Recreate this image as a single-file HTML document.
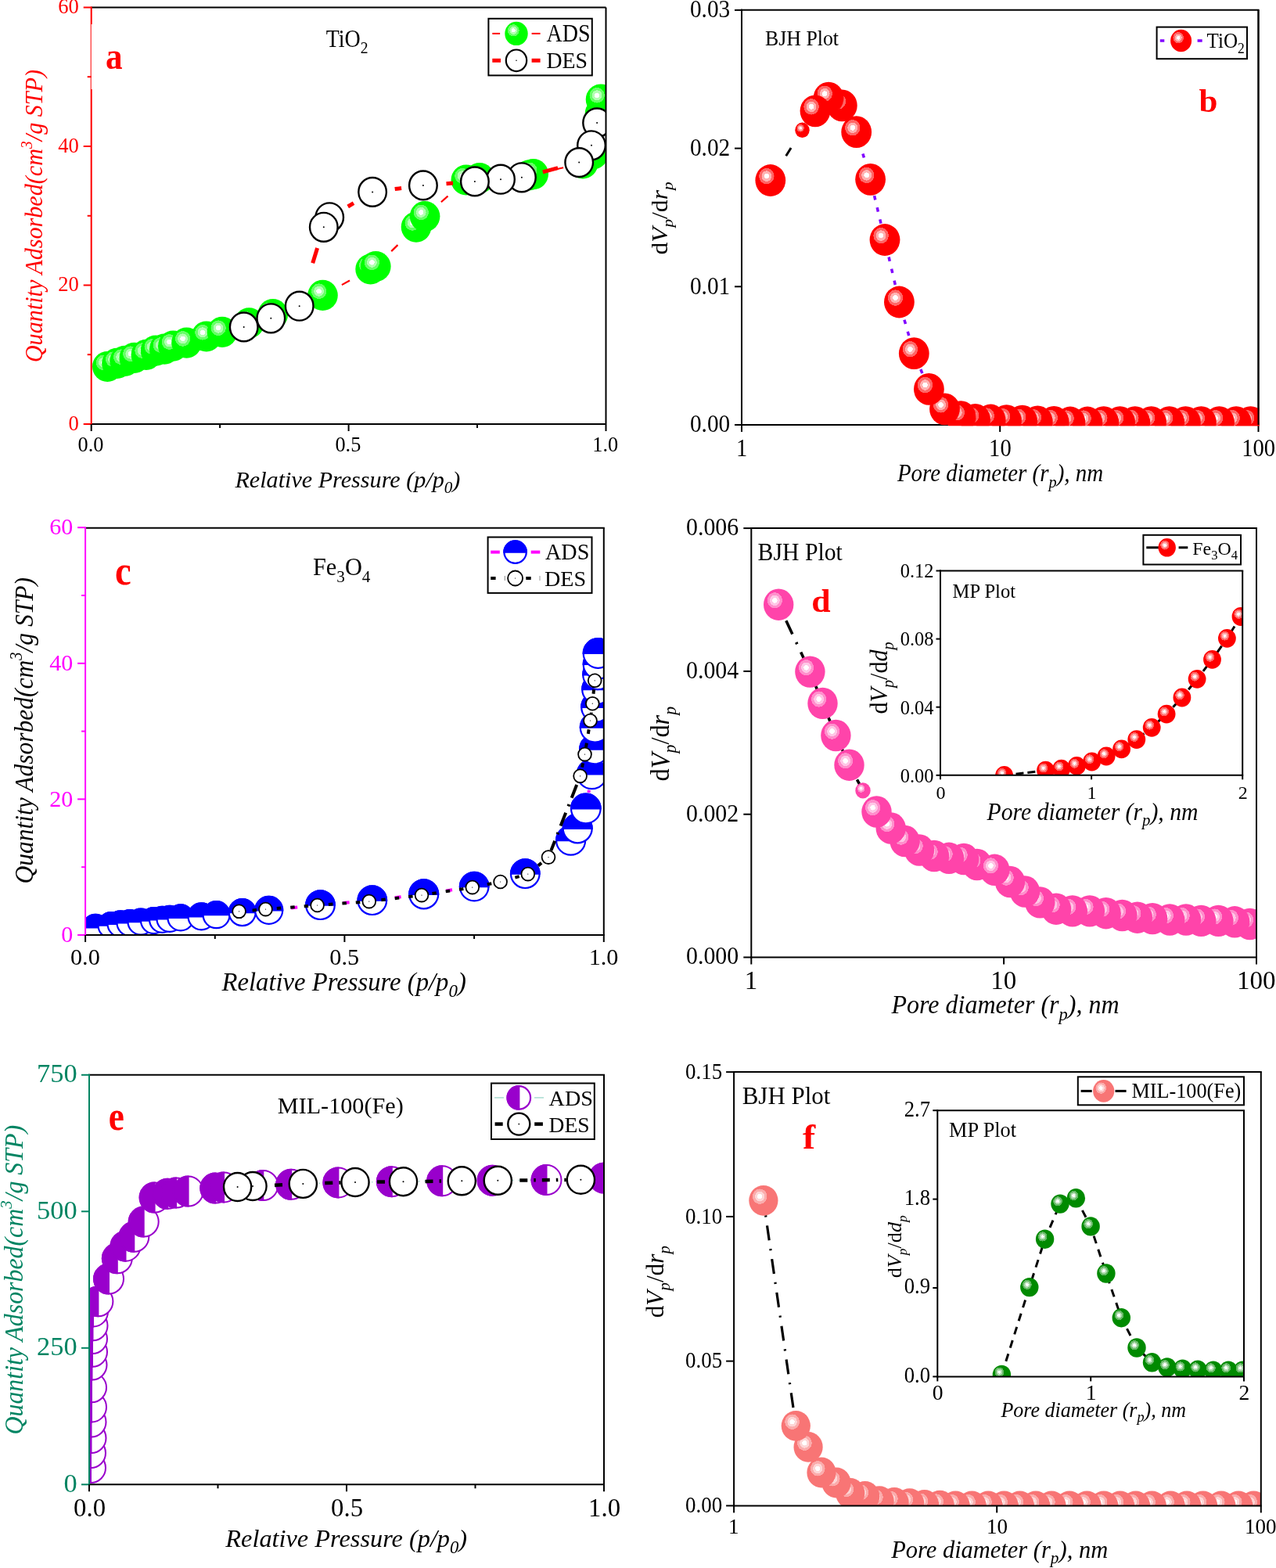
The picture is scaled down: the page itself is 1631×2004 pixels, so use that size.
<!DOCTYPE html><html><head><meta charset="utf-8"><title>BET isotherms and pore size distributions</title><style>html,body{margin:0;padding:0;background:#fff;}svg{display:block;}</style></head><body><svg width="1631" height="2004" viewBox="0 0 1631 2004" font-family="'Liberation Serif','Times New Roman',serif"><defs><radialGradient id="gG" cx="0.373" cy="0.367" fx="0.373" fy="0.367" r="0.25"><stop offset="0" stop-color="#fff"/><stop offset="0.33" stop-color="#fff"/><stop offset="0.34" stop-color="#b2ffb2"/><stop offset="0.65" stop-color="#b2ffb2"/><stop offset="0.66" stop-color="#66ff66"/><stop offset="0.985" stop-color="#66ff66"/><stop offset="1" stop-color="#00ff00"/></radialGradient><radialGradient id="gR" cx="0.373" cy="0.367" fx="0.373" fy="0.367" r="0.25"><stop offset="0" stop-color="#fff"/><stop offset="0.33" stop-color="#fff"/><stop offset="0.34" stop-color="#ffb2b2"/><stop offset="0.65" stop-color="#ffb2b2"/><stop offset="0.66" stop-color="#ff6666"/><stop offset="0.985" stop-color="#ff6666"/><stop offset="1" stop-color="#ff0000"/></radialGradient><radialGradient id="gP" cx="0.373" cy="0.367" fx="0.373" fy="0.367" r="0.25"><stop offset="0" stop-color="#fff"/><stop offset="0.33" stop-color="#fff"/><stop offset="0.34" stop-color="#ffc7e6"/><stop offset="0.65" stop-color="#ffc7e6"/><stop offset="0.66" stop-color="#ff8fcc"/><stop offset="0.985" stop-color="#ff8fcc"/><stop offset="1" stop-color="#ff44aa"/></radialGradient><radialGradient id="gS" cx="0.373" cy="0.367" fx="0.373" fy="0.367" r="0.25"><stop offset="0" stop-color="#fff"/><stop offset="0.33" stop-color="#fff"/><stop offset="0.34" stop-color="#fdd6d6"/><stop offset="0.65" stop-color="#fdd6d6"/><stop offset="0.66" stop-color="#fbacac"/><stop offset="0.985" stop-color="#fbacac"/><stop offset="1" stop-color="#f87575"/></radialGradient><radialGradient id="gD" cx="0.373" cy="0.367" fx="0.373" fy="0.367" r="0.25"><stop offset="0" stop-color="#fff"/><stop offset="0.33" stop-color="#fff"/><stop offset="0.34" stop-color="#b2dcb2"/><stop offset="0.65" stop-color="#b2dcb2"/><stop offset="0.66" stop-color="#66b966"/><stop offset="0.985" stop-color="#66b966"/><stop offset="1" stop-color="#008a00"/></radialGradient><clipPath id="ca"><rect x="116.7" y="9.5" width="657.8" height="532.5"/></clipPath><clipPath id="cb"><rect x="948.0" y="12.7" width="661.5" height="531.5"/></clipPath><clipPath id="cc"><rect x="109.1" y="674.7" width="662.6999999999999" height="520.3"/></clipPath><clipPath id="cd"><rect x="960.3" y="675.1" width="645.7" height="548.4"/></clipPath><clipPath id="cdi"><rect x="1202.0" y="729.5" width="386.20000000000005" height="261.29999999999995"/></clipPath><clipPath id="ce"><rect x="114.0" y="1373.8" width="658.0" height="523.5"/></clipPath><clipPath id="cf"><rect x="938.1" y="1370.1" width="673.6999999999999" height="554.3000000000002"/></clipPath><clipPath id="cfi"><rect x="1198.3" y="1419.2" width="391.70000000000005" height="340.20000000000005"/></clipPath></defs><rect width="1631" height="2004" fill="#fff"/><g clip-path="url(#ca)"><path d="M374.8,391.8L385.5,387.7M436.9,364.1L447.0,358.5M500.2,321.1L508.4,313.1M563.9,258.2L572.5,250.6M640.8,226.0L652.2,225.3M708.9,216.8L720.1,214.3M762.7,169.6L763.7,164.0" fill="none" stroke="#ff0000" stroke-width="2.2" stroke-linecap="butt"/><ellipse cx="137.3" cy="468.5" rx="19.3" ry="19.6" fill="url(#gG)"/><ellipse cx="149.5" cy="464.4" rx="19.3" ry="19.6" fill="url(#gG)"/><ellipse cx="159.6" cy="461.4" rx="19.3" ry="19.6" fill="url(#gG)"/><ellipse cx="171.7" cy="457.4" rx="19.3" ry="19.6" fill="url(#gG)"/><ellipse cx="186.9" cy="453.3" rx="19.3" ry="19.6" fill="url(#gG)"/><ellipse cx="199.0" cy="448.2" rx="19.3" ry="19.6" fill="url(#gG)"/><ellipse cx="210.2" cy="446.2" rx="19.3" ry="19.6" fill="url(#gG)"/><ellipse cx="221.3" cy="442.2" rx="19.3" ry="19.6" fill="url(#gG)"/><ellipse cx="238.5" cy="438.1" rx="19.3" ry="19.6" fill="url(#gG)"/><ellipse cx="263.8" cy="430.0" rx="19.3" ry="19.6" fill="url(#gG)"/><ellipse cx="284.0" cy="424.4" rx="19.3" ry="19.6" fill="url(#gG)"/><ellipse cx="318.4" cy="412.8" rx="19.3" ry="19.6" fill="url(#gG)"/><ellipse cx="348.8" cy="401.7" rx="19.3" ry="19.6" fill="url(#gG)"/><ellipse cx="412.5" cy="377.4" rx="19.3" ry="19.6" fill="url(#gG)"/><ellipse cx="473.6" cy="344.0" rx="19.3" ry="19.6" fill="url(#gG)"/><ellipse cx="480.3" cy="340.5" rx="19.3" ry="19.6" fill="url(#gG)"/><ellipse cx="532.0" cy="290.1" rx="19.3" ry="19.6" fill="url(#gG)"/><ellipse cx="543.1" cy="276.6" rx="19.3" ry="19.6" fill="url(#gG)"/><ellipse cx="595.8" cy="230.0" rx="19.3" ry="19.6" fill="url(#gG)"/><ellipse cx="613.0" cy="227.5" rx="19.3" ry="19.6" fill="url(#gG)"/><ellipse cx="676.0" cy="224.0" rx="19.3" ry="19.6" fill="url(#gG)"/><ellipse cx="681.7" cy="222.6" rx="19.3" ry="19.6" fill="url(#gG)"/><ellipse cx="745.0" cy="209.0" rx="19.3" ry="19.6" fill="url(#gG)"/><ellipse cx="758.0" cy="197.0" rx="19.3" ry="19.6" fill="url(#gG)"/><ellipse cx="767.0" cy="145.0" rx="19.3" ry="19.6" fill="url(#gG)"/><ellipse cx="768.0" cy="127.0" rx="19.3" ry="19.6" fill="url(#gG)"/><path d="M713.1,214.7L693.8,219.8M579.0,234.0L570.5,234.7M513.1,240.5L504.7,241.6M452.0,259.6L444.7,264.0M405.6,317.1L399.7,336.2" fill="none" stroke="#ff0000" stroke-width="5"/><ellipse cx="763.1" cy="156.9" rx="17.8" ry="18.4" fill="#fff" stroke="#000" stroke-width="2.4"/><circle cx="763.1" cy="156.9" r="1.0" fill="#000"/><ellipse cx="756.0" cy="185.8" rx="17.8" ry="18.4" fill="#fff" stroke="#000" stroke-width="2.4"/><circle cx="756.0" cy="185.8" r="1.0" fill="#000"/><ellipse cx="740.2" cy="207.6" rx="17.8" ry="18.4" fill="#fff" stroke="#000" stroke-width="2.4"/><circle cx="740.2" cy="207.6" r="1.0" fill="#000"/><ellipse cx="666.9" cy="226.8" rx="17.8" ry="18.4" fill="#fff" stroke="#000" stroke-width="2.4"/><circle cx="666.9" cy="226.8" r="1.0" fill="#000"/><ellipse cx="640.0" cy="229.2" rx="17.8" ry="18.4" fill="#fff" stroke="#000" stroke-width="2.4"/><circle cx="640.0" cy="229.2" r="1.0" fill="#000"/><ellipse cx="606.9" cy="231.9" rx="17.8" ry="18.4" fill="#fff" stroke="#000" stroke-width="2.4"/><circle cx="606.9" cy="231.9" r="1.0" fill="#000"/><ellipse cx="540.9" cy="236.9" rx="17.8" ry="18.4" fill="#fff" stroke="#000" stroke-width="2.4"/><circle cx="540.9" cy="236.9" r="1.0" fill="#000"/><ellipse cx="476.1" cy="245.4" rx="17.8" ry="18.4" fill="#fff" stroke="#000" stroke-width="2.4"/><circle cx="476.1" cy="245.4" r="1.0" fill="#000"/><ellipse cx="421.2" cy="277.8" rx="17.8" ry="18.4" fill="#fff" stroke="#000" stroke-width="2.4"/><circle cx="421.2" cy="277.8" r="1.0" fill="#000"/><ellipse cx="413.8" cy="290.3" rx="17.8" ry="18.4" fill="#fff" stroke="#000" stroke-width="2.4"/><circle cx="413.8" cy="290.3" r="1.0" fill="#000"/><ellipse cx="382.7" cy="391.2" rx="17.8" ry="18.4" fill="#fff" stroke="#000" stroke-width="2.4"/><circle cx="382.7" cy="391.2" r="1.0" fill="#000"/><ellipse cx="346.3" cy="406.8" rx="17.8" ry="18.4" fill="#fff" stroke="#000" stroke-width="2.4"/><circle cx="346.3" cy="406.8" r="1.0" fill="#000"/><ellipse cx="311.7" cy="417.9" rx="17.8" ry="18.4" fill="#fff" stroke="#000" stroke-width="2.4"/><circle cx="311.7" cy="417.9" r="1.0" fill="#000"/></g>
<line x1="116.7" y1="9.5" x2="774.5" y2="9.5" stroke="#000" stroke-width="2"/>
<line x1="774.5" y1="9.5" x2="774.5" y2="542.0" stroke="#000" stroke-width="2"/>
<line x1="116.7" y1="542.0" x2="774.5" y2="542.0" stroke="#000" stroke-width="2"/>
<line x1="116.7" y1="8.5" x2="116.7" y2="31.0" stroke="#ff0000" stroke-width="2"/>
<line x1="116.2" y1="31.0" x2="116.2" y2="114.0" stroke="#ff0000" stroke-width="1"/>
<line x1="116.7" y1="114.0" x2="116.7" y2="543.0" stroke="#ff0000" stroke-width="2"/>
<line x1="106.7" y1="542.0" x2="116.7" y2="542.0" stroke="#ff0000" stroke-width="2"/>
<line x1="106.7" y1="364.5" x2="116.7" y2="364.5" stroke="#ff0000" stroke-width="2"/>
<line x1="106.7" y1="187.0" x2="116.7" y2="187.0" stroke="#ff0000" stroke-width="2"/>
<line x1="106.7" y1="9.5" x2="116.7" y2="9.5" stroke="#ff0000" stroke-width="2"/>
<line x1="111.7" y1="453.2" x2="116.7" y2="453.2" stroke="#ff0000" stroke-width="2"/>
<line x1="111.7" y1="275.8" x2="116.7" y2="275.8" stroke="#ff0000" stroke-width="2"/>
<line x1="111.7" y1="98.2" x2="116.7" y2="98.2" stroke="#ff0000" stroke-width="2"/>
<line x1="116.7" y1="542.0" x2="116.7" y2="551.0" stroke="#000" stroke-width="2"/>
<line x1="445.6" y1="542.0" x2="445.6" y2="551.0" stroke="#000" stroke-width="2"/>
<line x1="774.5" y1="542.0" x2="774.5" y2="551.0" stroke="#000" stroke-width="2"/>
<line x1="281.1" y1="542.0" x2="281.1" y2="547.0" stroke="#000" stroke-width="2"/>
<line x1="610.0" y1="542.0" x2="610.0" y2="547.0" stroke="#000" stroke-width="2"/>
<rect x="624.4" y="23.8" width="132.4" height="72.6" fill="#fff" stroke="#000" stroke-width="2"/>
<line x1="629.3" y1="42.9" x2="639.1" y2="42.9" stroke="#ff0000" stroke-width="2"/>
<line x1="679.6" y1="42.9" x2="690.6" y2="42.9" stroke="#ff0000" stroke-width="2"/>
<ellipse cx="660.0" cy="42.9" rx="14.7" ry="15.2" fill="url(#gG)"/>
<line x1="629.3" y1="77.3" x2="640.0" y2="77.3" stroke="#ff0000" stroke-width="5"/>
<line x1="679.6" y1="77.3" x2="690.6" y2="77.3" stroke="#ff0000" stroke-width="5"/>
<ellipse cx="660.0" cy="77.3" rx="13.2" ry="13.8" fill="#fff" stroke="#000" stroke-width="2.2"/><circle cx="660.0" cy="77.3" r="0.8" fill="#000"/>
<line x1="947.0" y1="12.7" x2="1609.5" y2="12.7" stroke="#000" stroke-width="2"/>
<line x1="1608.5" y1="12.7" x2="1608.5" y2="543.0" stroke="#000" stroke-width="2"/>
<line x1="947.0" y1="543.0" x2="1609.5" y2="543.0" stroke="#000" stroke-width="2"/>
<line x1="948.0" y1="11.7" x2="948.0" y2="544.0" stroke="#000" stroke-width="2"/>
<line x1="939.0" y1="543.0" x2="948.0" y2="543.0" stroke="#000" stroke-width="2"/>
<line x1="939.0" y1="366.3" x2="948.0" y2="366.3" stroke="#000" stroke-width="2"/>
<line x1="939.0" y1="189.6" x2="948.0" y2="189.6" stroke="#000" stroke-width="2"/>
<line x1="939.0" y1="12.9" x2="948.0" y2="12.9" stroke="#000" stroke-width="2"/>
<line x1="948.0" y1="543.0" x2="948.0" y2="552.0" stroke="#000" stroke-width="2"/>
<line x1="1278.2" y1="543.0" x2="1278.2" y2="552.0" stroke="#000" stroke-width="2"/>
<line x1="1608.5" y1="543.0" x2="1608.5" y2="552.0" stroke="#000" stroke-width="2"/>
<g clip-path="url(#cb)"><path d="M1004.7,199.2L1011.1,189.0" fill="none" stroke="#000" stroke-width="3" stroke-linecap="butt"/><path d="M1102.9,196.4L1104.4,201.6M1117.6,250.1L1118.8,255.5M1121.2,265.2L1122.4,270.6M1124.8,280.3L1126.0,285.7M1136.1,328.5L1137.3,333.8M1139.6,343.6L1140.8,348.9M1143.1,358.7L1144.3,364.0M1155.9,408.8L1157.5,414.0M1160.2,423.7L1161.8,428.9M1176.8,472.0L1178.9,477.1" fill="none" stroke="#8000ff" stroke-width="3.5" stroke-linecap="butt"/><ellipse cx="1618.0" cy="539.6" rx="19.4" ry="20.4" fill="url(#gR)"/><ellipse cx="1598.5" cy="539.6" rx="19.4" ry="20.4" fill="url(#gR)"/><ellipse cx="1580.1" cy="539.6" rx="19.4" ry="20.4" fill="url(#gR)"/><ellipse cx="1558.5" cy="539.6" rx="19.4" ry="20.4" fill="url(#gR)"/><ellipse cx="1535.4" cy="539.6" rx="19.4" ry="20.4" fill="url(#gR)"/><ellipse cx="1515.4" cy="539.6" rx="19.4" ry="20.4" fill="url(#gR)"/><ellipse cx="1494.7" cy="539.6" rx="19.4" ry="20.4" fill="url(#gR)"/><ellipse cx="1471.6" cy="539.6" rx="19.4" ry="20.4" fill="url(#gR)"/><ellipse cx="1450.8" cy="539.6" rx="19.4" ry="20.4" fill="url(#gR)"/><ellipse cx="1431.6" cy="539.6" rx="19.4" ry="20.4" fill="url(#gR)"/><ellipse cx="1410.8" cy="539.6" rx="19.4" ry="20.4" fill="url(#gR)"/><ellipse cx="1390.0" cy="540.0" rx="19.4" ry="20.4" fill="url(#gR)"/><ellipse cx="1368.0" cy="540.0" rx="19.4" ry="20.4" fill="url(#gR)"/><ellipse cx="1347.2" cy="539.4" rx="19.4" ry="20.4" fill="url(#gR)"/><ellipse cx="1326.3" cy="538.8" rx="19.4" ry="20.4" fill="url(#gR)"/><ellipse cx="1306.7" cy="538.2" rx="19.4" ry="20.4" fill="url(#gR)"/><ellipse cx="1286.5" cy="537.6" rx="19.4" ry="20.4" fill="url(#gR)"/><ellipse cx="1266.2" cy="537.0" rx="19.4" ry="20.4" fill="url(#gR)"/><ellipse cx="1246.6" cy="536.4" rx="19.4" ry="20.4" fill="url(#gR)"/><ellipse cx="1228.2" cy="532.7" rx="19.4" ry="20.4" fill="url(#gR)"/><ellipse cx="1207.5" cy="522.8" rx="19.4" ry="20.4" fill="url(#gR)"/><ellipse cx="1187.4" cy="497.4" rx="19.4" ry="20.4" fill="url(#gR)"/><ellipse cx="1168.3" cy="451.7" rx="19.4" ry="20.4" fill="url(#gR)"/><ellipse cx="1149.4" cy="386.0" rx="19.4" ry="20.4" fill="url(#gR)"/><ellipse cx="1131.0" cy="306.5" rx="19.4" ry="20.4" fill="url(#gR)"/><ellipse cx="1112.6" cy="229.3" rx="19.4" ry="20.4" fill="url(#gR)"/><ellipse cx="1094.7" cy="168.7" rx="19.4" ry="20.4" fill="url(#gR)"/><ellipse cx="1076.3" cy="134.9" rx="19.4" ry="20.4" fill="url(#gR)"/><ellipse cx="1059.1" cy="125.1" rx="19.4" ry="20.4" fill="url(#gR)"/><ellipse cx="1042.0" cy="141.8" rx="19.4" ry="20.4" fill="url(#gR)"/><ellipse cx="1025.5" cy="166.3" rx="9.2" ry="9.7" fill="url(#gR)"/><ellipse cx="984.8" cy="230.5" rx="19.4" ry="20.4" fill="url(#gR)"/></g>
<line x1="1608.5" y1="12.7" x2="1608.5" y2="543.0" stroke="#000" stroke-width="2"/>
<rect x="1478.6" y="34.6" width="115.4" height="40.6" fill="#fff" stroke="#000" stroke-width="2"/>
<line x1="1482.8" y1="52.0" x2="1488.3" y2="52.0" stroke="#8000ff" stroke-width="3.5"/>
<line x1="1530.6" y1="52.0" x2="1536.7" y2="52.0" stroke="#8000ff" stroke-width="3.5"/>
<ellipse cx="1509.6" cy="52.0" rx="13.5" ry="14.3" fill="url(#gR)"/>
<g clip-path="url(#cc)"><path d="M372.2,1160.4L380.2,1159.6M438.7,1154.1L446.6,1153.3M504.7,1147.2L512.6,1146.3M570.1,1138.5L578.0,1137.3M634.9,1125.9L642.6,1123.9M697.1,1097.9L703.6,1093.2M752.4,1013.0L753.0,1009.9" fill="none" stroke="#ff00ff" stroke-width="4" stroke-linecap="butt"/><circle cx="122.0" cy="1185.4" r="16.5" fill="#fff" stroke="#0000ff" stroke-width="2.2"/><path d="M105.5,1185.4 A16.5,16.5 0 0 1 138.5,1185.4 Z" fill="#0000ff" stroke="#0000ff" stroke-width="2.2"/><circle cx="142.0" cy="1182.7" r="16.5" fill="#fff" stroke="#0000ff" stroke-width="2.2"/><path d="M125.5,1182.7 A16.5,16.5 0 0 1 158.5,1182.7 Z" fill="#0000ff" stroke="#0000ff" stroke-width="2.2"/><circle cx="154.0" cy="1180.8" r="16.5" fill="#fff" stroke="#0000ff" stroke-width="2.2"/><path d="M137.5,1180.8 A16.5,16.5 0 0 1 170.5,1180.8 Z" fill="#0000ff" stroke="#0000ff" stroke-width="2.2"/><circle cx="166.0" cy="1179.5" r="16.5" fill="#fff" stroke="#0000ff" stroke-width="2.2"/><path d="M149.5,1179.5 A16.5,16.5 0 0 1 182.5,1179.5 Z" fill="#0000ff" stroke="#0000ff" stroke-width="2.2"/><circle cx="180.0" cy="1178.1" r="16.5" fill="#fff" stroke="#0000ff" stroke-width="2.2"/><path d="M163.5,1178.1 A16.5,16.5 0 0 1 196.5,1178.1 Z" fill="#0000ff" stroke="#0000ff" stroke-width="2.2"/><circle cx="196.5" cy="1176.6" r="16.5" fill="#fff" stroke="#0000ff" stroke-width="2.2"/><path d="M180.0,1176.6 A16.5,16.5 0 0 1 213.0,1176.6 Z" fill="#0000ff" stroke="#0000ff" stroke-width="2.2"/><circle cx="207.5" cy="1175.3" r="16.5" fill="#fff" stroke="#0000ff" stroke-width="2.2"/><path d="M191.0,1175.3 A16.5,16.5 0 0 1 224.0,1175.3 Z" fill="#0000ff" stroke="#0000ff" stroke-width="2.2"/><circle cx="217.0" cy="1174.4" r="16.5" fill="#fff" stroke="#0000ff" stroke-width="2.2"/><path d="M200.5,1174.4 A16.5,16.5 0 0 1 233.5,1174.4 Z" fill="#0000ff" stroke="#0000ff" stroke-width="2.2"/><circle cx="231.0" cy="1172.9" r="16.5" fill="#fff" stroke="#0000ff" stroke-width="2.2"/><path d="M214.5,1172.9 A16.5,16.5 0 0 1 247.5,1172.9 Z" fill="#0000ff" stroke="#0000ff" stroke-width="2.2"/><circle cx="257.5" cy="1171.3" r="17.0" fill="#fff" stroke="#0000ff" stroke-width="2.2"/><path d="M240.5,1171.3 A17.0,17.0 0 0 1 274.5,1171.3 Z" fill="#0000ff" stroke="#0000ff" stroke-width="2.2"/><circle cx="276.6" cy="1169.2" r="17.0" fill="#fff" stroke="#0000ff" stroke-width="2.2"/><path d="M259.6,1169.2 A17.0,17.0 0 0 1 293.6,1169.2 Z" fill="#0000ff" stroke="#0000ff" stroke-width="2.2"/><circle cx="309.7" cy="1166.1" r="17.0" fill="#fff" stroke="#0000ff" stroke-width="2.2"/><path d="M292.7,1166.1 A17.0,17.0 0 0 1 326.7,1166.1 Z" fill="#0000ff" stroke="#0000ff" stroke-width="2.2"/><circle cx="343.7" cy="1163.3" r="17.5" fill="#fff" stroke="#0000ff" stroke-width="2.2"/><path d="M326.2,1163.3 A17.5,17.5 0 0 1 361.2,1163.3 Z" fill="#0000ff" stroke="#0000ff" stroke-width="2.2"/><circle cx="409.5" cy="1156.7" r="18.3" fill="#fff" stroke="#0000ff" stroke-width="2.2"/><path d="M391.2,1156.7 A18.3,18.3 0 0 1 427.8,1156.7 Z" fill="#0000ff" stroke="#0000ff" stroke-width="2.2"/><circle cx="475.8" cy="1150.7" r="18.3" fill="#fff" stroke="#0000ff" stroke-width="2.2"/><path d="M457.5,1150.7 A18.3,18.3 0 0 1 494.1,1150.7 Z" fill="#0000ff" stroke="#0000ff" stroke-width="2.2"/><circle cx="541.7" cy="1142.8" r="18.5" fill="#fff" stroke="#0000ff" stroke-width="2.2"/><path d="M523.2,1142.8 A18.5,18.5 0 0 1 560.2,1142.8 Z" fill="#0000ff" stroke="#0000ff" stroke-width="2.2"/><circle cx="606.2" cy="1133.1" r="18.3" fill="#fff" stroke="#0000ff" stroke-width="2.2"/><path d="M587.9,1133.1 A18.3,18.3 0 0 1 624.5,1133.1 Z" fill="#0000ff" stroke="#0000ff" stroke-width="2.2"/><circle cx="671.3" cy="1116.7" r="18.3" fill="#fff" stroke="#0000ff" stroke-width="2.2"/><path d="M653.0,1116.7 A18.3,18.3 0 0 1 689.6,1116.7 Z" fill="#0000ff" stroke="#0000ff" stroke-width="2.2"/><circle cx="729.6" cy="1074.2" r="18.5" fill="#fff" stroke="#0000ff" stroke-width="2.2"/><path d="M711.1,1074.2 A18.5,18.5 0 0 1 748.1,1074.2 Z" fill="#0000ff" stroke="#0000ff" stroke-width="2.2"/><circle cx="738.2" cy="1058.8" r="18.5" fill="#fff" stroke="#0000ff" stroke-width="2.2"/><path d="M719.7,1058.8 A18.5,18.5 0 0 1 756.7,1058.8 Z" fill="#0000ff" stroke="#0000ff" stroke-width="2.2"/><circle cx="748.8" cy="1033.5" r="18.8" fill="#fff" stroke="#0000ff" stroke-width="2.2"/><path d="M730.0,1033.5 A18.8,18.8 0 0 1 767.6,1033.5 Z" fill="#0000ff" stroke="#0000ff" stroke-width="2.2"/><circle cx="756.6" cy="989.4" r="18.8" fill="#fff" stroke="#0000ff" stroke-width="2.2"/><path d="M737.8,989.4 A18.8,18.8 0 0 1 775.4,989.4 Z" fill="#0000ff" stroke="#0000ff" stroke-width="2.2"/><circle cx="760.0" cy="957.6" r="18.8" fill="#fff" stroke="#0000ff" stroke-width="2.2"/><path d="M741.2,957.6 A18.8,18.8 0 0 1 778.8,957.6 Z" fill="#0000ff" stroke="#0000ff" stroke-width="2.2"/><circle cx="760.6" cy="929.7" r="18.8" fill="#fff" stroke="#0000ff" stroke-width="2.2"/><path d="M741.8,929.7 A18.8,18.8 0 0 1 779.4,929.7 Z" fill="#0000ff" stroke="#0000ff" stroke-width="2.2"/><circle cx="762.0" cy="903.8" r="18.8" fill="#fff" stroke="#0000ff" stroke-width="2.2"/><path d="M743.2,903.8 A18.8,18.8 0 0 1 780.8,903.8 Z" fill="#0000ff" stroke="#0000ff" stroke-width="2.2"/><circle cx="763.0" cy="881.1" r="18.8" fill="#fff" stroke="#0000ff" stroke-width="2.2"/><path d="M744.2,881.1 A18.8,18.8 0 0 1 781.8,881.1 Z" fill="#0000ff" stroke="#0000ff" stroke-width="2.2"/><circle cx="764.0" cy="862.3" r="18.8" fill="#fff" stroke="#0000ff" stroke-width="2.2"/><path d="M745.2,862.3 A18.8,18.8 0 0 1 782.8,862.3 Z" fill="#0000ff" stroke="#0000ff" stroke-width="2.2"/><circle cx="764.5" cy="849.0" r="18.8" fill="#fff" stroke="#0000ff" stroke-width="2.2"/><path d="M745.7,849.0 A18.8,18.8 0 0 1 783.3,849.0 Z" fill="#0000ff" stroke="#0000ff" stroke-width="2.2"/><circle cx="764.5" cy="835.0" r="18.8" fill="#fff" stroke="#0000ff" stroke-width="2.2"/><path d="M745.7,835.0 A18.8,18.8 0 0 1 783.3,835.0 Z" fill="#0000ff" stroke="#0000ff" stroke-width="2.2"/><path d="M759.1,881.2L758.5,886.7" fill="none" stroke="#000" stroke-width="4" stroke-linecap="butt"/><path d="M755.8,910.6L755.7,911.9" fill="none" stroke="#000" stroke-width="4" stroke-linecap="butt"/><path d="M752.7,932.4L751.8,937.8M749.9,949.6L749.0,955.0" fill="none" stroke="#000" stroke-width="4" stroke-linecap="butt"/><path d="M745.1,975.3L744.0,980.7" fill="none" stroke="#000" stroke-width="4" stroke-linecap="butt"/><path d="M692.1,1102.9L687.9,1106.4" fill="none" stroke="#000" stroke-width="4" stroke-linecap="butt"/><path d="M663.7,1120.2L658.4,1121.7" fill="none" stroke="#000" stroke-width="4" stroke-linecap="butt"/><path d="M628.3,1129.2L622.9,1130.3" fill="none" stroke="#000" stroke-width="4" stroke-linecap="butt"/><path d="M592.4,1135.9L587.0,1136.7M575.1,1138.5L569.7,1139.4M557.8,1141.2L552.4,1142.0" fill="none" stroke="#000" stroke-width="4" stroke-linecap="butt"/><path d="M527.6,1145.5L522.1,1146.1M510.2,1147.5L504.7,1148.2M492.8,1149.6L487.4,1150.2" fill="none" stroke="#000" stroke-width="4" stroke-linecap="butt"/><path d="M460.3,1152.9L454.8,1153.4M442.9,1154.2L437.4,1154.6M425.4,1155.5L419.9,1155.9" fill="none" stroke="#000" stroke-width="4" stroke-linecap="butt"/><path d="M394.1,1157.9L388.7,1158.3M376.7,1159.2L371.2,1159.7M359.2,1160.6L353.8,1161.0" fill="none" stroke="#000" stroke-width="4" stroke-linecap="butt"/><path d="M328.0,1163.0L322.6,1163.4" fill="none" stroke="#000" stroke-width="4" stroke-linecap="butt"/><path d="M737.2,1003.0L730.7,1019.7M727.4,1028.1L726.5,1030.4M723.2,1038.8L716.6,1055.6M713.4,1064.0L712.5,1066.3M709.2,1074.7L704.4,1087.0" fill="none" stroke="#000" stroke-width="4" stroke-linecap="butt"/><ellipse cx="760.2" cy="869.8" rx="8.4" ry="8.4" fill="#fff" stroke="#000" stroke-width="1.8"/><circle cx="760.2" cy="869.8" r="0.6" fill="#000"/><ellipse cx="757.3" cy="899.2" rx="8.4" ry="8.4" fill="#fff" stroke="#000" stroke-width="1.8"/><circle cx="757.3" cy="899.2" r="0.6" fill="#000"/><ellipse cx="754.5" cy="921.0" rx="8.4" ry="8.4" fill="#fff" stroke="#000" stroke-width="1.8"/><circle cx="754.5" cy="921.0" r="0.6" fill="#000"/><ellipse cx="747.5" cy="964.1" rx="8.4" ry="8.4" fill="#fff" stroke="#000" stroke-width="1.8"/><circle cx="747.5" cy="964.1" r="0.6" fill="#000"/><ellipse cx="741.6" cy="991.8" rx="8.4" ry="8.4" fill="#fff" stroke="#000" stroke-width="1.8"/><circle cx="741.6" cy="991.8" r="0.6" fill="#000"/><ellipse cx="701.0" cy="1095.6" rx="8.4" ry="8.4" fill="#fff" stroke="#000" stroke-width="1.8"/><circle cx="701.0" cy="1095.6" r="0.6" fill="#000"/><ellipse cx="674.8" cy="1117.1" rx="8.4" ry="8.4" fill="#fff" stroke="#000" stroke-width="1.8"/><circle cx="674.8" cy="1117.1" r="0.6" fill="#000"/><ellipse cx="639.6" cy="1127.0" rx="8.4" ry="8.4" fill="#fff" stroke="#000" stroke-width="1.8"/><circle cx="639.6" cy="1127.0" r="0.6" fill="#000"/><ellipse cx="603.8" cy="1134.1" rx="8.4" ry="8.4" fill="#fff" stroke="#000" stroke-width="1.8"/><circle cx="603.8" cy="1134.1" r="0.6" fill="#000"/><ellipse cx="539.0" cy="1144.1" rx="8.4" ry="8.4" fill="#fff" stroke="#000" stroke-width="1.8"/><circle cx="539.0" cy="1144.1" r="0.6" fill="#000"/><ellipse cx="471.8" cy="1152.1" rx="8.4" ry="8.4" fill="#fff" stroke="#000" stroke-width="1.8"/><circle cx="471.8" cy="1152.1" r="0.6" fill="#000"/><ellipse cx="405.6" cy="1157.0" rx="8.4" ry="8.4" fill="#fff" stroke="#000" stroke-width="1.8"/><circle cx="405.6" cy="1157.0" r="0.6" fill="#000"/><ellipse cx="339.5" cy="1162.1" rx="8.4" ry="8.4" fill="#fff" stroke="#000" stroke-width="1.8"/><circle cx="339.5" cy="1162.1" r="0.6" fill="#000"/><ellipse cx="305.6" cy="1164.8" rx="8.4" ry="8.4" fill="#fff" stroke="#000" stroke-width="1.8"/><circle cx="305.6" cy="1164.8" r="0.6" fill="#000"/></g>
<line x1="108.1" y1="674.7" x2="772.8" y2="674.7" stroke="#000" stroke-width="2"/>
<line x1="771.8" y1="674.7" x2="771.8" y2="1195.0" stroke="#000" stroke-width="2"/>
<line x1="108.1" y1="1195.0" x2="772.8" y2="1195.0" stroke="#000" stroke-width="2"/>
<line x1="109.1" y1="673.7" x2="109.1" y2="1196.0" stroke="#ff00ff" stroke-width="2"/>
<line x1="99.1" y1="1195.0" x2="109.1" y2="1195.0" stroke="#ff00ff" stroke-width="2"/>
<line x1="99.1" y1="1021.4" x2="109.1" y2="1021.4" stroke="#ff00ff" stroke-width="2"/>
<line x1="99.1" y1="847.8" x2="109.1" y2="847.8" stroke="#ff00ff" stroke-width="2"/>
<line x1="99.1" y1="674.2" x2="109.1" y2="674.2" stroke="#ff00ff" stroke-width="2"/>
<line x1="104.1" y1="1108.2" x2="109.1" y2="1108.2" stroke="#ff00ff" stroke-width="2"/>
<line x1="104.1" y1="934.6" x2="109.1" y2="934.6" stroke="#ff00ff" stroke-width="2"/>
<line x1="104.1" y1="761.0" x2="109.1" y2="761.0" stroke="#ff00ff" stroke-width="2"/>
<line x1="109.1" y1="1195.0" x2="109.1" y2="1204.0" stroke="#000" stroke-width="2"/>
<line x1="440.4" y1="1195.0" x2="440.4" y2="1204.0" stroke="#000" stroke-width="2"/>
<line x1="771.8" y1="1195.0" x2="771.8" y2="1204.0" stroke="#000" stroke-width="2"/>
<line x1="274.8" y1="1195.0" x2="274.8" y2="1200.0" stroke="#000" stroke-width="2"/>
<line x1="606.1" y1="1195.0" x2="606.1" y2="1200.0" stroke="#000" stroke-width="2"/>
<rect x="623.6" y="686.5" width="132.9" height="71.4" fill="#fff" stroke="#000" stroke-width="2"/>
<line x1="627.2" y1="705.6" x2="638.8" y2="705.6" stroke="#ff00ff" stroke-width="4"/>
<line x1="678.7" y1="705.6" x2="690.3" y2="705.6" stroke="#ff00ff" stroke-width="4"/>
<circle cx="658.6" cy="705.6" r="14.2" fill="#fff" stroke="#0000ff" stroke-width="2.2"/><path d="M644.4,705.6 A14.2,14.2 0 0 1 672.8,705.6 Z" fill="#0000ff" stroke="#0000ff" stroke-width="2.2"/>
<line x1="627.2" y1="739.0" x2="633.6" y2="739.0" stroke="#000" stroke-width="4"/>
<line x1="672.3" y1="739.0" x2="678.7" y2="739.0" stroke="#000" stroke-width="4"/>
<ellipse cx="658.6" cy="739.0" rx="9.5" ry="9.5" fill="#fff" stroke="#000" stroke-width="1.8"/><circle cx="658.6" cy="739.0" r="0.6" fill="#000"/>
<line x1="645.3" y1="736.0" x2="645.3" y2="742.0" stroke="#888" stroke-width="1"/>
<line x1="690.0" y1="736.0" x2="690.0" y2="742.0" stroke="#aaa" stroke-width="1.2"/>
<g clip-path="url(#cd)"><polyline points="995.2,772.7 1035.4,858.6 1051.5,898.9 1068.4,940.0 1085.5,977.7 1103.0,1010.4 1120.5,1037.5 1138.7,1058.5 1156.6,1075.0 1175.0,1086.5 1194.0,1094.0 1213.0,1096.8 1232.0,1098.0 1248.8,1105.0 1271.3,1111.8 1291.0,1127.0 1310.0,1139.5 1329.3,1153.4 1350.0,1161.7 1370.8,1164.4 1392.9,1164.4 1413.7,1167.2 1434.4,1170.0 1453.8,1172.7 1473.1,1174.1 1495.2,1175.5 1516.0,1175.5 1535.3,1176.9 1557.4,1176.9 1578.2,1178.3 1597.5,1181.0" fill="none" stroke="#000" stroke-width="3.6" stroke-dasharray="19 11.5 2.5 11.5" stroke-dashoffset="-22.7"/><ellipse cx="1597.5" cy="1181.0" rx="19.2" ry="20.2" fill="url(#gP)"/><ellipse cx="1578.2" cy="1178.3" rx="19.2" ry="20.2" fill="url(#gP)"/><ellipse cx="1557.4" cy="1176.9" rx="19.2" ry="20.2" fill="url(#gP)"/><ellipse cx="1535.3" cy="1176.9" rx="19.2" ry="20.2" fill="url(#gP)"/><ellipse cx="1516.0" cy="1175.5" rx="19.2" ry="20.2" fill="url(#gP)"/><ellipse cx="1495.2" cy="1175.5" rx="19.2" ry="20.2" fill="url(#gP)"/><ellipse cx="1473.1" cy="1174.1" rx="19.2" ry="20.2" fill="url(#gP)"/><ellipse cx="1453.8" cy="1172.7" rx="19.2" ry="20.2" fill="url(#gP)"/><ellipse cx="1434.4" cy="1170.0" rx="19.2" ry="20.2" fill="url(#gP)"/><ellipse cx="1413.7" cy="1167.2" rx="19.2" ry="20.2" fill="url(#gP)"/><ellipse cx="1392.9" cy="1164.4" rx="19.2" ry="20.2" fill="url(#gP)"/><ellipse cx="1370.8" cy="1164.4" rx="19.2" ry="20.2" fill="url(#gP)"/><ellipse cx="1350.0" cy="1161.7" rx="19.2" ry="20.2" fill="url(#gP)"/><ellipse cx="1329.3" cy="1153.4" rx="19.2" ry="20.2" fill="url(#gP)"/><ellipse cx="1310.0" cy="1139.5" rx="19.2" ry="20.2" fill="url(#gP)"/><ellipse cx="1291.0" cy="1127.0" rx="19.2" ry="20.2" fill="url(#gP)"/><ellipse cx="1248.8" cy="1105.0" rx="19.2" ry="20.2" fill="url(#gP)"/><ellipse cx="1232.0" cy="1098.0" rx="19.2" ry="20.2" fill="url(#gP)"/><ellipse cx="1213.0" cy="1096.8" rx="19.2" ry="20.2" fill="url(#gP)"/><ellipse cx="1194.0" cy="1094.0" rx="19.2" ry="20.2" fill="url(#gP)"/><ellipse cx="1175.0" cy="1086.5" rx="19.2" ry="20.2" fill="url(#gP)"/><ellipse cx="1156.6" cy="1075.0" rx="19.2" ry="20.2" fill="url(#gP)"/><ellipse cx="1138.7" cy="1058.5" rx="19.2" ry="20.2" fill="url(#gP)"/><ellipse cx="1120.5" cy="1037.5" rx="19.2" ry="20.2" fill="url(#gP)"/><ellipse cx="1103.0" cy="1010.4" rx="9.7" ry="10.2" fill="url(#gP)"/><ellipse cx="1085.5" cy="977.7" rx="19.2" ry="20.2" fill="url(#gP)"/><ellipse cx="1068.4" cy="940.0" rx="19.2" ry="20.2" fill="url(#gP)"/><ellipse cx="1051.5" cy="898.9" rx="19.2" ry="20.2" fill="url(#gP)"/><ellipse cx="1035.4" cy="858.6" rx="19.2" ry="20.2" fill="url(#gP)"/><ellipse cx="995.2" cy="772.7" rx="19.2" ry="20.2" fill="url(#gP)"/><ellipse cx="1271.3" cy="1111.8" rx="19.2" ry="20.2" fill="url(#gP)"/></g>
<line x1="959.3" y1="675.1" x2="1607.0" y2="675.1" stroke="#000" stroke-width="2"/>
<line x1="1606.0" y1="675.1" x2="1606.0" y2="1223.5" stroke="#000" stroke-width="2"/>
<line x1="959.3" y1="1223.5" x2="1607.0" y2="1223.5" stroke="#000" stroke-width="2"/>
<line x1="960.3" y1="674.1" x2="960.3" y2="1224.5" stroke="#000" stroke-width="2"/>
<line x1="950.3" y1="1223.5" x2="960.3" y2="1223.5" stroke="#000" stroke-width="2"/>
<line x1="950.3" y1="1040.7" x2="960.3" y2="1040.7" stroke="#000" stroke-width="2"/>
<line x1="950.3" y1="857.9" x2="960.3" y2="857.9" stroke="#000" stroke-width="2"/>
<line x1="950.3" y1="675.1" x2="960.3" y2="675.1" stroke="#000" stroke-width="2"/>
<line x1="960.3" y1="1223.5" x2="960.3" y2="1232.5" stroke="#000" stroke-width="2"/>
<line x1="1283.1" y1="1223.5" x2="1283.1" y2="1232.5" stroke="#000" stroke-width="2"/>
<line x1="1606.0" y1="1223.5" x2="1606.0" y2="1232.5" stroke="#000" stroke-width="2"/>
<rect x="1461.4" y="683.8" width="124.6" height="37.7" fill="#fff" stroke="#000" stroke-width="2"/>
<line x1="1465.3" y1="699.8" x2="1481.2" y2="699.8" stroke="#000" stroke-width="3"/>
<line x1="1506.6" y1="699.8" x2="1518.3" y2="699.8" stroke="#000" stroke-width="3"/>
<ellipse cx="1491.7" cy="699.8" rx="11.2" ry="11.8" fill="url(#gR)"/>
<rect x="1202.0" y="729.5" width="386.20000000000005" height="261.29999999999995" fill="#fff" stroke="none"/>
<g clip-path="url(#cdi)"><polyline points="1283.6,991.0 1336.5,984.7 1356.7,982.7 1376.3,978.9 1395.6,973.5 1414.1,966.5 1433.6,957.3 1452.8,945.1 1472.2,929.8 1491.1,912.6 1510.9,891.5 1530.1,867.8 1549.5,842.9 1568.4,815.8 1586.0,788.0" fill="none" stroke="#000" stroke-width="3" stroke-dasharray="10 5" /><ellipse cx="1283.6" cy="991.0" rx="11.4" ry="11.9" fill="url(#gR)"/><ellipse cx="1336.5" cy="984.7" rx="11.4" ry="11.9" fill="url(#gR)"/><ellipse cx="1356.7" cy="982.7" rx="11.4" ry="11.9" fill="url(#gR)"/><ellipse cx="1376.3" cy="978.9" rx="11.4" ry="11.9" fill="url(#gR)"/><ellipse cx="1395.6" cy="973.5" rx="11.4" ry="11.9" fill="url(#gR)"/><ellipse cx="1414.1" cy="966.5" rx="11.4" ry="11.9" fill="url(#gR)"/><ellipse cx="1433.6" cy="957.3" rx="11.4" ry="11.9" fill="url(#gR)"/><ellipse cx="1452.8" cy="945.1" rx="11.4" ry="11.9" fill="url(#gR)"/><ellipse cx="1472.2" cy="929.8" rx="11.4" ry="11.9" fill="url(#gR)"/><ellipse cx="1491.1" cy="912.6" rx="11.4" ry="11.9" fill="url(#gR)"/><ellipse cx="1510.9" cy="891.5" rx="11.4" ry="11.9" fill="url(#gR)"/><ellipse cx="1530.1" cy="867.8" rx="11.4" ry="11.9" fill="url(#gR)"/><ellipse cx="1549.5" cy="842.9" rx="11.4" ry="11.9" fill="url(#gR)"/><ellipse cx="1568.4" cy="815.8" rx="11.4" ry="11.9" fill="url(#gR)"/><ellipse cx="1586.0" cy="788.0" rx="11.4" ry="11.9" fill="url(#gR)"/></g>
<line x1="1201.0" y1="729.5" x2="1589.2" y2="729.5" stroke="#000" stroke-width="2"/>
<line x1="1588.2" y1="729.5" x2="1588.2" y2="990.8" stroke="#000" stroke-width="2"/>
<line x1="1201.0" y1="990.8" x2="1589.2" y2="990.8" stroke="#000" stroke-width="2"/>
<line x1="1202.0" y1="728.5" x2="1202.0" y2="991.8" stroke="#000" stroke-width="2"/>
<line x1="1196.5" y1="990.8" x2="1202.0" y2="990.8" stroke="#000" stroke-width="2"/>
<line x1="1196.5" y1="903.7" x2="1202.0" y2="903.7" stroke="#000" stroke-width="2"/>
<line x1="1196.5" y1="816.6" x2="1202.0" y2="816.6" stroke="#000" stroke-width="2"/>
<line x1="1196.5" y1="729.5" x2="1202.0" y2="729.5" stroke="#000" stroke-width="2"/>
<line x1="1202.0" y1="990.8" x2="1202.0" y2="996.3" stroke="#000" stroke-width="2"/>
<line x1="1395.1" y1="990.8" x2="1395.1" y2="996.3" stroke="#000" stroke-width="2"/>
<line x1="1588.2" y1="990.8" x2="1588.2" y2="996.3" stroke="#000" stroke-width="2"/>
<g clip-path="url(#ce)"><polyline points="116.0,1876.0 116.0,1857.0 116.5,1838.0 116.5,1817.5 117.0,1798.4 117.0,1773.3 117.5,1744.6 118.0,1727.8 118.0,1711.1 118.5,1694.3 119.0,1676.4 125.4,1663.3 139.0,1634.6 149.8,1608.3 160.5,1592.7 171.3,1580.8 183.7,1561.6 197.6,1530.5 214.3,1525.8 225.1,1524.6 240.6,1522.6 275.3,1518.6 286.1,1517.4 336.3,1515.0 372.2,1513.8 432.4,1511.4 500.8,1510.2 565.2,1509.3 629.6,1508.7 698.5,1508.1 772.0,1505.6" fill="none" stroke="#a8dcd0" stroke-width="1.5" stroke-dasharray="1.5 6" /><circle cx="116.0" cy="1876.0" r="19.0" fill="#fff" stroke="#9900cc" stroke-width="2"/><path d="M116.0,1895.0 A19.0,19.0 0 0 1 116.0,1857.0 Z" fill="#9900cc" stroke="#9900cc" stroke-width="2"/><circle cx="116.0" cy="1857.0" r="19.0" fill="#fff" stroke="#9900cc" stroke-width="2"/><path d="M116.0,1876.0 A19.0,19.0 0 0 1 116.0,1838.0 Z" fill="#9900cc" stroke="#9900cc" stroke-width="2"/><circle cx="116.5" cy="1838.0" r="19.0" fill="#fff" stroke="#9900cc" stroke-width="2"/><path d="M116.5,1857.0 A19.0,19.0 0 0 1 116.5,1819.0 Z" fill="#9900cc" stroke="#9900cc" stroke-width="2"/><circle cx="116.5" cy="1817.5" r="19.0" fill="#fff" stroke="#9900cc" stroke-width="2"/><path d="M116.5,1836.5 A19.0,19.0 0 0 1 116.5,1798.5 Z" fill="#9900cc" stroke="#9900cc" stroke-width="2"/><circle cx="117.0" cy="1798.4" r="19.0" fill="#fff" stroke="#9900cc" stroke-width="2"/><path d="M117.0,1817.4 A19.0,19.0 0 0 1 117.0,1779.4 Z" fill="#9900cc" stroke="#9900cc" stroke-width="2"/><circle cx="117.0" cy="1773.3" r="19.0" fill="#fff" stroke="#9900cc" stroke-width="2"/><path d="M117.0,1792.3 A19.0,19.0 0 0 1 117.0,1754.3 Z" fill="#9900cc" stroke="#9900cc" stroke-width="2"/><circle cx="117.5" cy="1744.6" r="19.0" fill="#fff" stroke="#9900cc" stroke-width="2"/><path d="M117.5,1763.6 A19.0,19.0 0 0 1 117.5,1725.6 Z" fill="#9900cc" stroke="#9900cc" stroke-width="2"/><circle cx="118.0" cy="1727.8" r="19.0" fill="#fff" stroke="#9900cc" stroke-width="2"/><path d="M118.0,1746.8 A19.0,19.0 0 0 1 118.0,1708.8 Z" fill="#9900cc" stroke="#9900cc" stroke-width="2"/><circle cx="118.0" cy="1711.1" r="19.0" fill="#fff" stroke="#9900cc" stroke-width="2"/><path d="M118.0,1730.1 A19.0,19.0 0 0 1 118.0,1692.1 Z" fill="#9900cc" stroke="#9900cc" stroke-width="2"/><circle cx="118.5" cy="1694.3" r="19.0" fill="#fff" stroke="#9900cc" stroke-width="2"/><path d="M118.5,1713.3 A19.0,19.0 0 0 1 118.5,1675.3 Z" fill="#9900cc" stroke="#9900cc" stroke-width="2"/><circle cx="119.0" cy="1676.4" r="19.0" fill="#fff" stroke="#9900cc" stroke-width="2"/><path d="M119.0,1695.4 A19.0,19.0 0 0 1 119.0,1657.4 Z" fill="#9900cc" stroke="#9900cc" stroke-width="2"/><circle cx="125.4" cy="1663.3" r="19.0" fill="#fff" stroke="#9900cc" stroke-width="2"/><path d="M125.4,1682.3 A19.0,19.0 0 0 1 125.4,1644.3 Z" fill="#9900cc" stroke="#9900cc" stroke-width="2"/><circle cx="139.0" cy="1634.6" r="19.0" fill="#fff" stroke="#9900cc" stroke-width="2"/><path d="M139.0,1653.6 A19.0,19.0 0 0 1 139.0,1615.6 Z" fill="#9900cc" stroke="#9900cc" stroke-width="2"/><circle cx="149.8" cy="1608.3" r="19.0" fill="#fff" stroke="#9900cc" stroke-width="2"/><path d="M149.8,1627.3 A19.0,19.0 0 0 1 149.8,1589.3 Z" fill="#9900cc" stroke="#9900cc" stroke-width="2"/><circle cx="160.5" cy="1592.7" r="19.0" fill="#fff" stroke="#9900cc" stroke-width="2"/><path d="M160.5,1611.7 A19.0,19.0 0 0 1 160.5,1573.7 Z" fill="#9900cc" stroke="#9900cc" stroke-width="2"/><circle cx="171.3" cy="1580.8" r="19.0" fill="#fff" stroke="#9900cc" stroke-width="2"/><path d="M171.3,1599.8 A19.0,19.0 0 0 1 171.3,1561.8 Z" fill="#9900cc" stroke="#9900cc" stroke-width="2"/><circle cx="183.7" cy="1561.6" r="19.0" fill="#fff" stroke="#9900cc" stroke-width="2"/><path d="M183.7,1580.6 A19.0,19.0 0 0 1 183.7,1542.6 Z" fill="#9900cc" stroke="#9900cc" stroke-width="2"/><circle cx="197.6" cy="1530.5" r="19.0" fill="#fff" stroke="#9900cc" stroke-width="2"/><path d="M197.6,1549.5 A19.0,19.0 0 0 1 197.6,1511.5 Z" fill="#9900cc" stroke="#9900cc" stroke-width="2"/><circle cx="214.3" cy="1525.8" r="19.0" fill="#fff" stroke="#9900cc" stroke-width="2"/><path d="M214.3,1544.8 A19.0,19.0 0 0 1 214.3,1506.8 Z" fill="#9900cc" stroke="#9900cc" stroke-width="2"/><circle cx="225.1" cy="1524.6" r="19.0" fill="#fff" stroke="#9900cc" stroke-width="2"/><path d="M225.1,1543.6 A19.0,19.0 0 0 1 225.1,1505.6 Z" fill="#9900cc" stroke="#9900cc" stroke-width="2"/><circle cx="240.6" cy="1522.6" r="19.0" fill="#fff" stroke="#9900cc" stroke-width="2"/><path d="M240.6,1541.6 A19.0,19.0 0 0 1 240.6,1503.6 Z" fill="#9900cc" stroke="#9900cc" stroke-width="2"/><circle cx="275.3" cy="1518.6" r="19.0" fill="#fff" stroke="#9900cc" stroke-width="2"/><path d="M275.3,1537.6 A19.0,19.0 0 0 1 275.3,1499.6 Z" fill="#9900cc" stroke="#9900cc" stroke-width="2"/><circle cx="286.1" cy="1517.4" r="19.0" fill="#fff" stroke="#9900cc" stroke-width="2"/><path d="M286.1,1536.4 A19.0,19.0 0 0 1 286.1,1498.4 Z" fill="#9900cc" stroke="#9900cc" stroke-width="2"/><circle cx="336.3" cy="1515.0" r="19.0" fill="#fff" stroke="#9900cc" stroke-width="2"/><path d="M336.3,1534.0 A19.0,19.0 0 0 1 336.3,1496.0 Z" fill="#9900cc" stroke="#9900cc" stroke-width="2"/><circle cx="372.2" cy="1513.8" r="19.0" fill="#fff" stroke="#9900cc" stroke-width="2"/><path d="M372.2,1532.8 A19.0,19.0 0 0 1 372.2,1494.8 Z" fill="#9900cc" stroke="#9900cc" stroke-width="2"/><circle cx="432.4" cy="1511.4" r="19.0" fill="#fff" stroke="#9900cc" stroke-width="2"/><path d="M432.4,1530.4 A19.0,19.0 0 0 1 432.4,1492.4 Z" fill="#9900cc" stroke="#9900cc" stroke-width="2"/><circle cx="500.8" cy="1510.2" r="19.0" fill="#fff" stroke="#9900cc" stroke-width="2"/><path d="M500.8,1529.2 A19.0,19.0 0 0 1 500.8,1491.2 Z" fill="#9900cc" stroke="#9900cc" stroke-width="2"/><circle cx="565.2" cy="1509.3" r="19.0" fill="#fff" stroke="#9900cc" stroke-width="2"/><path d="M565.2,1528.3 A19.0,19.0 0 0 1 565.2,1490.3 Z" fill="#9900cc" stroke="#9900cc" stroke-width="2"/><circle cx="629.6" cy="1508.7" r="19.0" fill="#fff" stroke="#9900cc" stroke-width="2"/><path d="M629.6,1527.7 A19.0,19.0 0 0 1 629.6,1489.7 Z" fill="#9900cc" stroke="#9900cc" stroke-width="2"/><circle cx="698.5" cy="1508.1" r="19.0" fill="#fff" stroke="#9900cc" stroke-width="2"/><path d="M698.5,1527.1 A19.0,19.0 0 0 1 698.5,1489.1 Z" fill="#9900cc" stroke="#9900cc" stroke-width="2"/><circle cx="772.0" cy="1505.6" r="19.0" fill="#fff" stroke="#9900cc" stroke-width="2"/><path d="M772.0,1524.6 A19.0,19.0 0 0 1 772.0,1486.6 Z" fill="#9900cc" stroke="#9900cc" stroke-width="2"/><path d="M351.0,1514.7L361.0,1514.2M415.3,1512.1L425.3,1511.8M433.3,1511.6L435.4,1511.5M482.0,1510.6L492.0,1510.5M543.5,1509.9L553.5,1509.7M561.5,1509.6L564.0,1509.6M664.3,1508.5L674.3,1508.4M682.3,1508.3L684.8,1508.3M692.8,1508.2L702.8,1508.1M710.8,1508.1L713.3,1508.0M721.3,1508.0L723.8,1508.0" fill="none" stroke="#000" stroke-width="4.5" stroke-linecap="butt"/><ellipse cx="742.4" cy="1507.8" rx="17.6" ry="18.0" fill="#fff" stroke="#000" stroke-width="2.4"/><circle cx="742.4" cy="1507.8" r="1.0" fill="#000"/><ellipse cx="636.3" cy="1508.7" rx="17.6" ry="18.0" fill="#fff" stroke="#000" stroke-width="2.4"/><circle cx="636.3" cy="1508.7" r="1.0" fill="#000"/><ellipse cx="590.3" cy="1509.3" rx="17.6" ry="18.0" fill="#fff" stroke="#000" stroke-width="2.4"/><circle cx="590.3" cy="1509.3" r="1.0" fill="#000"/><ellipse cx="515.5" cy="1510.2" rx="17.6" ry="18.0" fill="#fff" stroke="#000" stroke-width="2.4"/><circle cx="515.5" cy="1510.2" r="1.0" fill="#000"/><ellipse cx="454.0" cy="1511.0" rx="17.6" ry="18.0" fill="#fff" stroke="#000" stroke-width="2.4"/><circle cx="454.0" cy="1511.0" r="1.0" fill="#000"/><ellipse cx="387.3" cy="1512.9" rx="17.6" ry="18.0" fill="#fff" stroke="#000" stroke-width="2.4"/><circle cx="387.3" cy="1512.9" r="1.0" fill="#000"/><ellipse cx="323.0" cy="1516.0" rx="17.6" ry="18.0" fill="#fff" stroke="#000" stroke-width="2.4"/><circle cx="323.0" cy="1516.0" r="1.0" fill="#000"/><ellipse cx="303.6" cy="1517.0" rx="17.6" ry="18.0" fill="#fff" stroke="#000" stroke-width="2.4"/><circle cx="303.6" cy="1517.0" r="1.0" fill="#000"/></g>
<line x1="113.0" y1="1373.8" x2="773.0" y2="1373.8" stroke="#000" stroke-width="2"/>
<line x1="772.0" y1="1373.8" x2="772.0" y2="1897.3" stroke="#000" stroke-width="2"/>
<line x1="113.0" y1="1897.3" x2="773.0" y2="1897.3" stroke="#000" stroke-width="2"/>
<line x1="114.0" y1="1372.8" x2="114.0" y2="1898.3" stroke="#008462" stroke-width="2"/>
<line x1="104.0" y1="1897.3" x2="114.0" y2="1897.3" stroke="#008462" stroke-width="2"/>
<line x1="104.0" y1="1722.8" x2="114.0" y2="1722.8" stroke="#008462" stroke-width="2"/>
<line x1="104.0" y1="1548.3" x2="114.0" y2="1548.3" stroke="#008462" stroke-width="2"/>
<line x1="104.0" y1="1373.8" x2="114.0" y2="1373.8" stroke="#008462" stroke-width="2"/>
<line x1="114.0" y1="1897.3" x2="114.0" y2="1906.3" stroke="#000" stroke-width="2"/>
<line x1="443.0" y1="1897.3" x2="443.0" y2="1906.3" stroke="#000" stroke-width="2"/>
<line x1="772.0" y1="1897.3" x2="772.0" y2="1906.3" stroke="#000" stroke-width="2"/>
<line x1="278.5" y1="1897.3" x2="278.5" y2="1902.3" stroke="#000" stroke-width="2"/>
<line x1="607.5" y1="1897.3" x2="607.5" y2="1902.3" stroke="#000" stroke-width="2"/>
<rect x="628" y="1384.5" width="131.8" height="71.5" fill="#fff" stroke="#000" stroke-width="2"/>
<line x1="632.0" y1="1402.9" x2="644.0" y2="1402.9" stroke="#a8dcd0" stroke-width="1.5"/>
<line x1="683.0" y1="1402.9" x2="695.0" y2="1402.9" stroke="#a8dcd0" stroke-width="1.5"/>
<circle cx="663.3" cy="1402.9" r="14.8" fill="#fff" stroke="#9900cc" stroke-width="2.2"/><path d="M663.3,1417.7 A14.8,14.8 0 0 1 663.3,1388.1 Z" fill="#9900cc" stroke="#9900cc" stroke-width="2.2"/>
<line x1="632.6" y1="1436.6" x2="642.7" y2="1436.6" stroke="#000" stroke-width="4.5"/>
<line x1="683.2" y1="1436.6" x2="693.9" y2="1436.6" stroke="#000" stroke-width="4.5"/>
<ellipse cx="663.3" cy="1436.6" rx="14.0" ry="14.0" fill="#fff" stroke="#000" stroke-width="2.4"/><circle cx="663.3" cy="1436.6" r="0.9" fill="#000"/>
<g clip-path="url(#cf)"><polyline points="975.9,1534.3 1017.3,1822.3 1033.1,1849.4 1050.0,1882.0 1069.0,1895.0 1086.7,1908.5 1105.7,1912.5 1124.1,1918.6 1143.1,1920.5 1162.7,1921.7 1181.7,1923.5 1201.4,1924.2 1221.3,1924.8 1242.3,1924.8 1263.2,1924.8 1283.4,1924.8 1303.6,1924.8 1323.9,1924.8 1344.1,1924.8 1367.0,1924.8 1389.3,1924.8 1410.9,1924.8 1431.8,1924.8 1451.7,1924.8 1472.4,1924.8 1496.3,1924.8 1517.0,1924.8 1537.7,1924.8 1561.0,1924.8 1583.0,1924.8 1602.4,1924.8 1622.0,1924.8" fill="none" stroke="#000" stroke-width="3.2" stroke-dasharray="19 11 2.2 11" stroke-dashoffset="10.8"/><ellipse cx="1622.0" cy="1924.8" rx="18.6" ry="19.4" fill="url(#gS)"/><ellipse cx="1602.4" cy="1924.8" rx="18.6" ry="19.4" fill="url(#gS)"/><ellipse cx="1583.0" cy="1924.8" rx="18.6" ry="19.4" fill="url(#gS)"/><ellipse cx="1561.0" cy="1924.8" rx="18.6" ry="19.4" fill="url(#gS)"/><ellipse cx="1537.7" cy="1924.8" rx="18.6" ry="19.4" fill="url(#gS)"/><ellipse cx="1517.0" cy="1924.8" rx="18.6" ry="19.4" fill="url(#gS)"/><ellipse cx="1496.3" cy="1924.8" rx="18.6" ry="19.4" fill="url(#gS)"/><ellipse cx="1472.4" cy="1924.8" rx="18.6" ry="19.4" fill="url(#gS)"/><ellipse cx="1451.7" cy="1924.8" rx="18.6" ry="19.4" fill="url(#gS)"/><ellipse cx="1431.8" cy="1924.8" rx="18.6" ry="19.4" fill="url(#gS)"/><ellipse cx="1410.9" cy="1924.8" rx="18.6" ry="19.4" fill="url(#gS)"/><ellipse cx="1389.3" cy="1924.8" rx="18.6" ry="19.4" fill="url(#gS)"/><ellipse cx="1367.0" cy="1924.8" rx="18.6" ry="19.4" fill="url(#gS)"/><ellipse cx="1344.1" cy="1924.8" rx="18.6" ry="19.4" fill="url(#gS)"/><ellipse cx="1323.9" cy="1924.8" rx="18.6" ry="19.4" fill="url(#gS)"/><ellipse cx="1303.6" cy="1924.8" rx="18.6" ry="19.4" fill="url(#gS)"/><ellipse cx="1283.4" cy="1924.8" rx="18.6" ry="19.4" fill="url(#gS)"/><ellipse cx="1263.2" cy="1924.8" rx="18.6" ry="19.4" fill="url(#gS)"/><ellipse cx="1242.3" cy="1924.8" rx="18.6" ry="19.4" fill="url(#gS)"/><ellipse cx="1221.3" cy="1924.8" rx="18.6" ry="19.4" fill="url(#gS)"/><ellipse cx="1201.4" cy="1924.2" rx="18.6" ry="19.4" fill="url(#gS)"/><ellipse cx="1181.7" cy="1923.5" rx="18.6" ry="19.4" fill="url(#gS)"/><ellipse cx="1162.7" cy="1921.7" rx="18.6" ry="19.4" fill="url(#gS)"/><ellipse cx="1143.1" cy="1920.5" rx="18.6" ry="19.4" fill="url(#gS)"/><ellipse cx="1124.1" cy="1918.6" rx="18.6" ry="19.4" fill="url(#gS)"/><ellipse cx="1105.7" cy="1912.5" rx="18.6" ry="19.4" fill="url(#gS)"/><ellipse cx="1086.7" cy="1908.5" rx="18.6" ry="19.4" fill="url(#gS)"/><ellipse cx="1069.0" cy="1895.0" rx="18.6" ry="19.4" fill="url(#gS)"/><ellipse cx="1050.0" cy="1882.0" rx="18.6" ry="19.4" fill="url(#gS)"/><ellipse cx="1033.1" cy="1849.4" rx="18.6" ry="19.4" fill="url(#gS)"/><ellipse cx="1017.3" cy="1822.3" rx="18.6" ry="19.4" fill="url(#gS)"/><ellipse cx="975.9" cy="1534.3" rx="18.6" ry="19.4" fill="url(#gS)"/></g>
<line x1="937.1" y1="1370.1" x2="1612.8" y2="1370.1" stroke="#000" stroke-width="2"/>
<line x1="1611.8" y1="1370.1" x2="1611.8" y2="1924.4" stroke="#000" stroke-width="2"/>
<line x1="937.1" y1="1924.4" x2="1612.8" y2="1924.4" stroke="#000" stroke-width="2"/>
<line x1="938.1" y1="1369.1" x2="938.1" y2="1925.4" stroke="#000" stroke-width="2"/>
<line x1="928.1" y1="1924.4" x2="938.1" y2="1924.4" stroke="#000" stroke-width="2"/>
<line x1="928.1" y1="1739.6" x2="938.1" y2="1739.6" stroke="#000" stroke-width="2"/>
<line x1="928.1" y1="1554.9" x2="938.1" y2="1554.9" stroke="#000" stroke-width="2"/>
<line x1="928.1" y1="1370.1" x2="938.1" y2="1370.1" stroke="#000" stroke-width="2"/>
<line x1="938.1" y1="1924.4" x2="938.1" y2="1933.4" stroke="#000" stroke-width="2"/>
<line x1="1274.2" y1="1924.4" x2="1274.2" y2="1933.4" stroke="#000" stroke-width="2"/>
<line x1="1611.8" y1="1924.4" x2="1611.8" y2="1933.4" stroke="#000" stroke-width="2"/>
<rect x="1377.8" y="1376.3" width="212.2" height="36" fill="#fff" stroke="#000" stroke-width="2"/>
<line x1="1381.6" y1="1394.4" x2="1395.7" y2="1394.4" stroke="#000" stroke-width="3"/>
<line x1="1425.5" y1="1394.4" x2="1439.6" y2="1394.4" stroke="#000" stroke-width="3"/>
<ellipse cx="1410.7" cy="1394.4" rx="13.6" ry="14.3" fill="url(#gS)"/>
<rect x="1198.3" y="1419.2" width="391.70000000000005" height="340.20000000000005" fill="#fff" stroke="none"/>
<g clip-path="url(#cfi)"><polyline points="1280.4,1756.9 1315.8,1645.1 1335.6,1583.7 1355.0,1538.6 1375.3,1531.3 1394.1,1567.4 1413.9,1627.5 1433.3,1684.2 1453.0,1722.5 1472.5,1741.3 1491.9,1747.5 1511.6,1749.7 1531.0,1750.7 1550.8,1751.6 1570.2,1751.6 1588.4,1751.6" fill="none" stroke="#000" stroke-width="3" stroke-dasharray="10 8" /><ellipse cx="1280.4" cy="1756.9" rx="11.7" ry="12.2" fill="url(#gD)"/><ellipse cx="1315.8" cy="1645.1" rx="11.7" ry="12.2" fill="url(#gD)"/><ellipse cx="1335.6" cy="1583.7" rx="11.7" ry="12.2" fill="url(#gD)"/><ellipse cx="1355.0" cy="1538.6" rx="11.7" ry="12.2" fill="url(#gD)"/><ellipse cx="1375.3" cy="1531.3" rx="11.7" ry="12.2" fill="url(#gD)"/><ellipse cx="1394.1" cy="1567.4" rx="11.7" ry="12.2" fill="url(#gD)"/><ellipse cx="1413.9" cy="1627.5" rx="11.7" ry="12.2" fill="url(#gD)"/><ellipse cx="1433.3" cy="1684.2" rx="11.7" ry="12.2" fill="url(#gD)"/><ellipse cx="1453.0" cy="1722.5" rx="11.7" ry="12.2" fill="url(#gD)"/><ellipse cx="1472.5" cy="1741.3" rx="11.7" ry="12.2" fill="url(#gD)"/><ellipse cx="1491.9" cy="1747.5" rx="11.7" ry="12.2" fill="url(#gD)"/><ellipse cx="1511.6" cy="1749.7" rx="11.7" ry="12.2" fill="url(#gD)"/><ellipse cx="1531.0" cy="1750.7" rx="11.7" ry="12.2" fill="url(#gD)"/><ellipse cx="1550.8" cy="1751.6" rx="11.7" ry="12.2" fill="url(#gD)"/><ellipse cx="1570.2" cy="1751.6" rx="11.7" ry="12.2" fill="url(#gD)"/><ellipse cx="1588.4" cy="1751.6" rx="11.7" ry="12.2" fill="url(#gD)"/></g>
<line x1="1197.3" y1="1419.2" x2="1591.0" y2="1419.2" stroke="#000" stroke-width="2"/>
<line x1="1590.0" y1="1419.2" x2="1590.0" y2="1759.4" stroke="#000" stroke-width="2"/>
<line x1="1197.3" y1="1759.4" x2="1591.0" y2="1759.4" stroke="#000" stroke-width="2"/>
<line x1="1198.3" y1="1418.2" x2="1198.3" y2="1760.4" stroke="#000" stroke-width="2"/>
<line x1="1192.3" y1="1759.4" x2="1198.3" y2="1759.4" stroke="#000" stroke-width="2"/>
<line x1="1192.3" y1="1646.0" x2="1198.3" y2="1646.0" stroke="#000" stroke-width="2"/>
<line x1="1192.3" y1="1532.6" x2="1198.3" y2="1532.6" stroke="#000" stroke-width="2"/>
<line x1="1192.3" y1="1419.2" x2="1198.3" y2="1419.2" stroke="#000" stroke-width="2"/>
<line x1="1198.3" y1="1759.4" x2="1198.3" y2="1765.4" stroke="#000" stroke-width="2"/>
<line x1="1394.2" y1="1759.4" x2="1394.2" y2="1765.4" stroke="#000" stroke-width="2"/>
<line x1="1590.0" y1="1759.4" x2="1590.0" y2="1765.4" stroke="#000" stroke-width="2"/>
<text x="300.40" y="622.80" font-size="29.55" fill="#000" font-style="italic" textLength="287.94" lengthAdjust="spacingAndGlyphs">Relative Pressure (p/p<tspan font-size="20.69" dy="7.39">0</tspan><tspan dy="-7.39">)</tspan></text>
<text transform="translate(53.84,463.20) rotate(-90)" x="0" y="0" font-size="32.03" fill="#ff0000" font-style="italic" textLength="374.25" lengthAdjust="spacingAndGlyphs">Quantity Adsorbed(cm<tspan font-size="20.82" dy="-12.81">3</tspan><tspan dy="12.81">/g STP)</tspan></text>
<text x="135.00" y="87.60" font-size="47.84" fill="#ff0000" font-weight="bold" textLength="21.57" lengthAdjust="spacingAndGlyphs">a</text>
<text x="416.70" y="59.76" font-size="30.85" fill="#000" textLength="53.97" lengthAdjust="spacingAndGlyphs">TiO<tspan font-size="21.59" dy="8.33">2</tspan></text>
<text x="698.50" y="53.00" font-size="30.50" fill="#000" textLength="55.99" lengthAdjust="spacingAndGlyphs">ADS</text>
<text x="698.50" y="87.00" font-size="30.44" fill="#000" textLength="52.56" lengthAdjust="spacingAndGlyphs">DES</text>
<text x="1146.90" y="614.86" font-size="31.26" fill="#000" font-style="italic" textLength="263.32" lengthAdjust="spacingAndGlyphs">Pore diameter (r<tspan font-size="21.88" dy="7.82">p</tspan><tspan dy="-7.82">), nm</tspan></text>
<text transform="translate(852.88,325.60) rotate(-90)" x="0" y="0" font-size="29.07" fill="#000" textLength="93.17" lengthAdjust="spacingAndGlyphs">d<tspan font-style="italic">V</tspan><tspan font-style="italic" font-size="19.47" dy="7.41">p</tspan><tspan dy="-7.41">/d</tspan><tspan font-style="italic">r</tspan><tspan font-style="italic" font-size="19.47" dy="7.41">p</tspan></text>
<text x="978.00" y="57.60" font-size="28.09" fill="#000" textLength="94.06" lengthAdjust="spacingAndGlyphs">BJH Plot</text>
<text x="1532.40" y="142.60" font-size="43.20" fill="#ff0000" font-weight="bold" textLength="23.91" lengthAdjust="spacingAndGlyphs">b</text>
<text x="1542.50" y="60.94" font-size="26.69" fill="#000" textLength="48.29" lengthAdjust="spacingAndGlyphs">TiO<tspan font-size="18.68" dy="7.21">2</tspan></text>
<text x="283.50" y="1265.84" font-size="32.93" fill="#000" font-style="italic" textLength="312.27" lengthAdjust="spacingAndGlyphs">Relative Pressure (p/p<tspan font-size="23.05" dy="8.23">0</tspan><tspan dy="-8.23">)</tspan></text>
<text transform="translate(41.73,1129.50) rotate(-90)" x="0" y="0" font-size="34.00" fill="#000" font-style="italic" textLength="391.47" lengthAdjust="spacingAndGlyphs">Quantity Adsorbed(cm<tspan font-size="22.10" dy="-13.60">3</tspan><tspan dy="13.60">/g STP)</tspan></text>
<text x="146.90" y="747.30" font-size="52.36" fill="#ff0000" font-weight="bold" textLength="20.71" lengthAdjust="spacingAndGlyphs">c</text>
<text x="399.90" y="735.36" font-size="31.19" fill="#000" textLength="73.60" lengthAdjust="spacingAndGlyphs">Fe<tspan font-size="21.83" dy="8.42">3</tspan><tspan dy="-8.42">O</tspan><tspan font-size="21.83" dy="8.42">4</tspan></text>
<text x="697.00" y="715.40" font-size="28.49" fill="#000" textLength="56.32" lengthAdjust="spacingAndGlyphs">ADS</text>
<text x="696.00" y="748.60" font-size="27.40" fill="#000" textLength="53.17" lengthAdjust="spacingAndGlyphs">DES</text>
<text x="1139.50" y="1295.46" font-size="33.12" fill="#000" font-style="italic" textLength="291.08" lengthAdjust="spacingAndGlyphs">Pore diameter (r<tspan font-size="23.19" dy="8.28">p</tspan><tspan dy="-8.28">), nm</tspan></text>
<text transform="translate(855.22,998.50) rotate(-90)" x="0" y="0" font-size="32.88" fill="#000" textLength="95.58" lengthAdjust="spacingAndGlyphs">d<tspan font-style="italic">V</tspan><tspan font-style="italic" font-size="22.03" dy="8.38">p</tspan><tspan dy="-8.38">/d</tspan><tspan font-style="italic">r</tspan><tspan font-style="italic" font-size="22.03" dy="8.38">p</tspan></text>
<text x="968.60" y="716.10" font-size="31.86" fill="#000" textLength="108.24" lengthAdjust="spacingAndGlyphs">BJH Plot</text>
<text x="1037.20" y="782.20" font-size="43.12" fill="#ff0000" font-weight="bold" textLength="24.37" lengthAdjust="spacingAndGlyphs">d</text>
<text x="1524.30" y="708.76" font-size="24.00" fill="#000" textLength="57.77" lengthAdjust="spacingAndGlyphs">Fe<tspan font-size="16.80" dy="6.48">3</tspan><tspan dy="-6.48">O</tspan><tspan font-size="16.80" dy="6.48">4</tspan></text>
<text x="1217.60" y="763.70" font-size="24.66" fill="#000" textLength="80.47" lengthAdjust="spacingAndGlyphs">MP Plot</text>
<text x="1261.60" y="1047.62" font-size="30.54" fill="#000" font-style="italic" textLength="269.90" lengthAdjust="spacingAndGlyphs">Pore diameter (r<tspan font-size="21.38" dy="7.64">p</tspan><tspan dy="-7.64">), nm</tspan></text>
<text transform="translate(1134.05,912.50) rotate(-90)" x="0" y="0" font-size="30.79" fill="#000" textLength="92.21" lengthAdjust="spacingAndGlyphs">d<tspan font-style="italic">V</tspan><tspan font-style="italic" font-size="20.63" dy="7.85">p</tspan><tspan dy="-7.85">/d</tspan><tspan font-style="italic">d</tspan><tspan font-style="italic" font-size="20.63" dy="7.85">p</tspan></text>
<text x="288.30" y="1976.84" font-size="31.67" fill="#000" font-style="italic" textLength="308.83" lengthAdjust="spacingAndGlyphs">Relative Pressure (p/p<tspan font-size="22.17" dy="7.92">0</tspan><tspan dy="-7.92">)</tspan></text>
<text transform="translate(28.70,1833.50) rotate(-90)" x="0" y="0" font-size="33.80" fill="#008462" font-style="italic" textLength="395.62" lengthAdjust="spacingAndGlyphs">Quantity Adsorbed(cm<tspan font-size="21.97" dy="-13.52">3</tspan><tspan dy="13.52">/g STP)</tspan></text>
<text x="138.80" y="1443.80" font-size="52.36" fill="#ff0000" font-weight="bold" textLength="20.06" lengthAdjust="spacingAndGlyphs">e</text>
<text x="354.80" y="1423.00" font-size="29.70" fill="#000" textLength="160.94" lengthAdjust="spacingAndGlyphs">MIL-100(Fe)</text>
<text x="701.60" y="1413.10" font-size="27.89" fill="#000" textLength="56.34" lengthAdjust="spacingAndGlyphs">ADS</text>
<text x="701.60" y="1447.40" font-size="28.05" fill="#000" textLength="52.06" lengthAdjust="spacingAndGlyphs">DES</text>
<text x="1139.20" y="1990.72" font-size="30.79" fill="#000" font-style="italic" textLength="276.94" lengthAdjust="spacingAndGlyphs">Pore diameter (r<tspan font-size="21.55" dy="7.70">p</tspan><tspan dy="-7.70">), nm</tspan></text>
<text transform="translate(847.85,1684.30) rotate(-90)" x="0" y="0" font-size="32.11" fill="#000" textLength="92.25" lengthAdjust="spacingAndGlyphs">d<tspan font-style="italic">V</tspan><tspan font-style="italic" font-size="21.52" dy="8.19">p</tspan><tspan dy="-8.19">/d</tspan><tspan font-style="italic">r</tspan><tspan font-style="italic" font-size="21.52" dy="8.19">p</tspan></text>
<text x="948.70" y="1410.70" font-size="32.62" fill="#000" textLength="112.70" lengthAdjust="spacingAndGlyphs">BJH Plot</text>
<text x="1026.00" y="1468.20" font-size="45.17" fill="#ff0000" font-weight="bold" textLength="16.16" lengthAdjust="spacingAndGlyphs">f</text>
<text x="1446.40" y="1403.40" font-size="26.67" fill="#000" textLength="139.89" lengthAdjust="spacingAndGlyphs">MIL-100(Fe)</text>
<text x="1213.00" y="1452.90" font-size="27.13" fill="#000" textLength="86.07" lengthAdjust="spacingAndGlyphs">MP Plot</text>
<text x="1279.40" y="1810.52" font-size="27.14" fill="#000" font-style="italic" textLength="236.72" lengthAdjust="spacingAndGlyphs">Pore diameter (r<tspan font-size="19.00" dy="6.79">p</tspan><tspan dy="-6.79">), nm</tspan></text>
<text transform="translate(1152.44,1633.30) rotate(-90)" x="0" y="0" font-size="26.24" fill="#000" textLength="80.07" lengthAdjust="spacingAndGlyphs">d<tspan font-style="italic">V</tspan><tspan font-style="italic" font-size="17.58" dy="6.69">p</tspan><tspan dy="-6.69">/d</tspan><tspan font-style="italic">d</tspan><tspan font-style="italic" font-size="17.58" dy="6.69">p</tspan></text>
<text transform="translate(100.90,549.80) scale(1.0048,1)" font-size="26.50" fill="#ff0000" text-anchor="end">0</text><text transform="translate(100.90,372.30) scale(1.0048,1)" font-size="26.50" fill="#ff0000" text-anchor="end">20</text><text transform="translate(100.90,194.80) scale(1.0048,1)" font-size="26.50" fill="#ff0000" text-anchor="end">40</text><text transform="translate(100.90,17.30) scale(1.0048,1)" font-size="26.50" fill="#ff0000" text-anchor="end">60</text>
<text transform="translate(115.95,577.40) scale(0.9793,1)" font-size="26.87" fill="#000" text-anchor="middle">0.0</text><text transform="translate(444.85,577.40) scale(0.9793,1)" font-size="26.87" fill="#000" text-anchor="middle">0.5</text><text transform="translate(773.75,577.40) scale(0.9793,1)" font-size="26.87" fill="#000" text-anchor="middle">1.0</text>
<text transform="translate(933.20,552.40) scale(0.9454,1)" font-size="31.00" fill="#000" text-anchor="end">0.00</text><text transform="translate(933.20,375.70) scale(0.9454,1)" font-size="31.00" fill="#000" text-anchor="end">0.01</text><text transform="translate(933.20,199.00) scale(0.9454,1)" font-size="31.00" fill="#000" text-anchor="end">0.02</text><text transform="translate(933.20,22.30) scale(0.9454,1)" font-size="31.00" fill="#000" text-anchor="end">0.03</text>
<text transform="translate(948.20,582.85) scale(0.9316,1)" font-size="30.74" fill="#000" text-anchor="middle">1</text><text transform="translate(1278.40,582.85) scale(0.9316,1)" font-size="30.74" fill="#000" text-anchor="middle">10</text><text transform="translate(1608.70,582.85) scale(0.9316,1)" font-size="30.74" fill="#000" text-anchor="middle">100</text>
<text transform="translate(93.30,1204.20) scale(1.0000,1)" font-size="30.04" fill="#ff00ff" text-anchor="end">0</text><text transform="translate(93.30,1030.60) scale(1.0000,1)" font-size="30.04" fill="#ff00ff" text-anchor="end">20</text><text transform="translate(93.30,857.00) scale(1.0000,1)" font-size="30.04" fill="#ff00ff" text-anchor="end">40</text><text transform="translate(93.30,683.40) scale(1.0000,1)" font-size="30.04" fill="#ff00ff" text-anchor="end">60</text>
<text transform="translate(108.85,1233.20) scale(1.0060,1)" font-size="30.04" fill="#000" text-anchor="middle">0.0</text><text transform="translate(440.20,1233.20) scale(1.0060,1)" font-size="30.04" fill="#000" text-anchor="middle">0.5</text><text transform="translate(771.55,1233.20) scale(1.0060,1)" font-size="30.04" fill="#000" text-anchor="middle">1.0</text>
<text transform="translate(944.20,1232.40) scale(0.9635,1)" font-size="31.00" fill="#000" text-anchor="end">0.000</text><text transform="translate(944.20,1049.60) scale(0.9635,1)" font-size="31.00" fill="#000" text-anchor="end">0.002</text><text transform="translate(944.20,866.80) scale(0.9635,1)" font-size="31.00" fill="#000" text-anchor="end">0.004</text><text transform="translate(944.20,684.00) scale(0.9635,1)" font-size="31.00" fill="#000" text-anchor="end">0.006</text>
<text transform="translate(959.95,1264.40) scale(1.0000,1)" font-size="33.04" fill="#000" text-anchor="middle">1</text><text transform="translate(1282.75,1264.40) scale(1.0000,1)" font-size="33.04" fill="#000" text-anchor="middle">10</text><text transform="translate(1605.65,1264.40) scale(1.0000,1)" font-size="33.04" fill="#000" text-anchor="middle">100</text>
<text transform="translate(1193.40,999.60) scale(0.9288,1)" font-size="26.25" fill="#000" text-anchor="end">0.00</text><text transform="translate(1193.40,912.50) scale(0.9288,1)" font-size="26.25" fill="#000" text-anchor="end">0.04</text><text transform="translate(1193.40,825.40) scale(0.9288,1)" font-size="26.25" fill="#000" text-anchor="end">0.08</text><text transform="translate(1193.40,738.30) scale(0.9288,1)" font-size="26.25" fill="#000" text-anchor="end">0.12</text>
<text transform="translate(1202.45,1021.00) scale(1.0000,1)" font-size="24.06" fill="#000" text-anchor="middle">0</text><text transform="translate(1395.55,1021.00) scale(1.0000,1)" font-size="24.06" fill="#000" text-anchor="middle">1</text><text transform="translate(1588.65,1021.00) scale(1.0000,1)" font-size="24.06" fill="#000" text-anchor="middle">2</text>
<text transform="translate(98.60,1906.70) scale(0.9999,1)" font-size="34.40" fill="#008462" text-anchor="end">0</text><text transform="translate(98.60,1732.20) scale(0.9999,1)" font-size="34.40" fill="#008462" text-anchor="end">250</text><text transform="translate(98.60,1557.70) scale(0.9999,1)" font-size="34.40" fill="#008462" text-anchor="end">500</text><text transform="translate(98.60,1383.20) scale(0.9999,1)" font-size="34.40" fill="#008462" text-anchor="end">750</text>
<text transform="translate(114.55,1938.20) scale(0.9990,1)" font-size="32.86" fill="#000" text-anchor="middle">0.0</text><text transform="translate(443.55,1938.20) scale(0.9990,1)" font-size="32.86" fill="#000" text-anchor="middle">0.5</text><text transform="translate(772.55,1938.20) scale(0.9990,1)" font-size="32.86" fill="#000" text-anchor="middle">1.0</text>
<text transform="translate(923.20,1933.10) scale(0.9296,1)" font-size="28.99" fill="#000" text-anchor="end">0.00</text><text transform="translate(923.20,1748.33) scale(0.9296,1)" font-size="28.99" fill="#000" text-anchor="end">0.05</text><text transform="translate(923.20,1563.57) scale(0.9296,1)" font-size="28.99" fill="#000" text-anchor="end">0.10</text><text transform="translate(923.20,1378.80) scale(0.9296,1)" font-size="28.99" fill="#000" text-anchor="end">0.15</text>
<text transform="translate(937.65,1960.40) scale(1.0000,1)" font-size="27.07" fill="#000" text-anchor="middle">1</text><text transform="translate(1274.45,1960.40) scale(1.0000,1)" font-size="27.07" fill="#000" text-anchor="middle">10</text><text transform="translate(1611.35,1960.40) scale(1.0000,1)" font-size="27.07" fill="#000" text-anchor="middle">100</text>
<text transform="translate(1189.10,1766.85) scale(0.9359,1)" font-size="28.48" fill="#000" text-anchor="end">0.0</text><text transform="translate(1189.10,1653.45) scale(0.9359,1)" font-size="28.48" fill="#000" text-anchor="end">0.9</text><text transform="translate(1189.10,1540.05) scale(0.9359,1)" font-size="28.48" fill="#000" text-anchor="end">1.8</text><text transform="translate(1189.10,1426.65) scale(0.9359,1)" font-size="28.48" fill="#000" text-anchor="end">2.7</text>
<text transform="translate(1198.70,1789.35) scale(1.0000,1)" font-size="27.63" fill="#000" text-anchor="middle">0</text><text transform="translate(1394.55,1789.35) scale(1.0000,1)" font-size="27.63" fill="#000" text-anchor="middle">1</text><text transform="translate(1590.40,1789.35) scale(1.0000,1)" font-size="27.63" fill="#000" text-anchor="middle">2</text></svg></body></html>
